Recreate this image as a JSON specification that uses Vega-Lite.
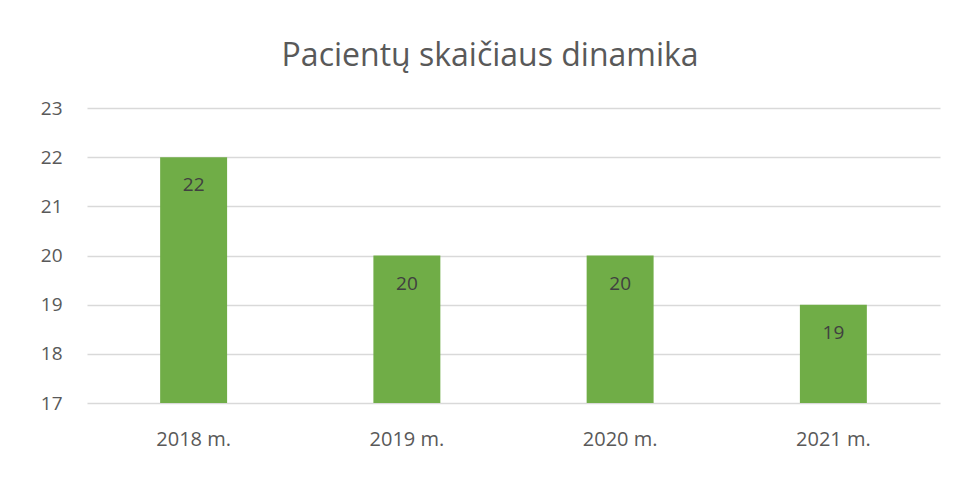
{
  "$schema": "https://vega.github.io/schema/vega-lite/v6.json",
  "autosize": "none",
  "width": 853,
  "height": 295,
  "padding": {"left": 87, "top": 108, "right": 21, "bottom": 76},
  "background": "white",
  "title": {
    "text": "Pacientų skaičiaus dinamika",
    "fontSize": 32,
    "font": "Open Sans",
    "fontWeight": "normal",
    "color": "#595959",
    "anchor": "middle",
    "frame": "bounds",
    "offset": 26
  },
  "data": {
    "values": [
      {"year": "2018 m.", "value": 22},
      {"year": "2019 m.", "value": 20},
      {"year": "2020 m.", "value": 20},
      {"year": "2021 m.", "value": 19}
    ]
  },
  "config": {
    "view": {"stroke": null},
    "font": "Open Sans"
  },
  "encoding": {
    "x": {
      "field": "year",
      "type": "nominal",
      "sort": null,
      "scale": {"paddingInner": 0.686, "paddingOuter": 0.343},
      "axis": {
        "title": null,
        "labelAngle": 0,
        "labelFontSize": 20,
        "labelColor": "#595959",
        "labelFont": "Open Sans",
        "labelPadding": 26,
        "labelOverlap": false,
        "domain": false,
        "ticks": false,
        "grid": false
      }
    },
    "y": {
      "field": "value",
      "type": "quantitative",
      "scale": {"domain": [17, 23], "zero": false, "nice": false},
      "axis": {
        "title": null,
        "values": [17, 18, 19, 20, 21, 22, 23],
        "labelFontSize": 19,
        "labelColor": "#595959",
        "labelFont": "Open Sans",
        "labelPadding": 25,
        "labelOverlap": false,
        "domain": false,
        "ticks": false,
        "grid": true,
        "gridColor": "#d9d9d9",
        "gridWidth": 1.5
      }
    }
  },
  "layer": [
    {
      "mark": {"type": "bar", "color": "#70ad47", "clip": true}
    },
    {
      "mark": {
        "type": "text",
        "baseline": "middle",
        "dy": 28,
        "fontSize": 19,
        "color": "#404040",
        "font": "Open Sans"
      },
      "encoding": {"text": {"field": "value", "type": "quantitative"}}
    }
  ]
}
